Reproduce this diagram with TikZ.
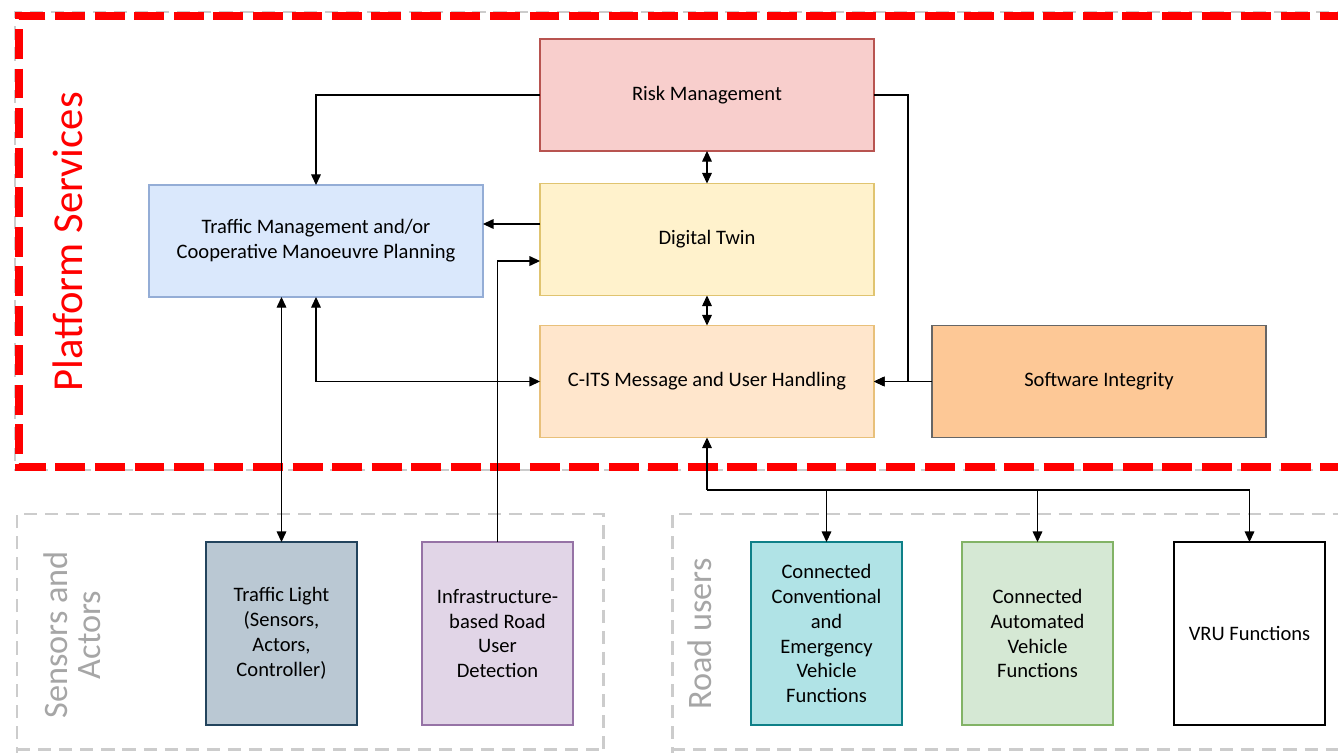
\documentclass[tikz,border=0pt]{standalone}
\usepackage{fontspec}
\setmainfont{Carlito}
\usepackage{xcolor}
\usetikzlibrary{arrows.meta}
\usetikzlibrary{calc}

\definecolor{riskfill}{HTML}{F8CECC}\definecolor{riskline}{HTML}{B85450}
\definecolor{twinfill}{HTML}{FFF2CC}\definecolor{twinline}{HTML}{E0C470}
\definecolor{citsfill}{HTML}{FFE6CC}\definecolor{citsline}{HTML}{E8C07A}
\definecolor{swfill}{HTML}{FDC896}\definecolor{swline}{HTML}{666666}
\definecolor{tmfill}{HTML}{DAE8FC}\definecolor{tmline}{HTML}{94ADD6}
\definecolor{tlfill}{HTML}{BAC8D3}\definecolor{tlline}{HTML}{23445D}
\definecolor{infill}{HTML}{E1D5E7}\definecolor{inline}{HTML}{9673A6}
\definecolor{cvfill}{HTML}{B0E3E6}\definecolor{cvline}{HTML}{0E8088}
\definecolor{avfill}{HTML}{D5E8D4}\definecolor{avline}{HTML}{82B366}
\definecolor{grouplabel}{HTML}{A6A6A6}
\definecolor{groupline}{HTML}{CCCCCC}

\tikzset{
  box/.style={draw, line width=0.9pt, inner sep=2pt, outer sep=0pt, align=center,
    font=\fontsize{11.7}{14.2}\selectfont},
  wide/.style={box, minimum width=6.68cm, minimum height=2.24cm},
  tall/.style={box, minimum width=3.02cm, minimum height=3.66cm},
  group/.style={draw=groupline, line width=1.7pt, dash pattern=on 7.5pt off 4.5pt},
  platform/.style={draw=red, line width=4pt, dash pattern=on 17pt off 5.5pt},
  link/.style={line width=0.6pt, >={Triangle[length=6pt,width=5.5pt]}},
}

\begin{document}
\begin{tikzpicture}[x=0.02cm, y=-0.02cm]
  \useasboundingbox (0,0) rectangle (1338,753);

  % groups
  \draw[group] (1350,12) -- (15,12) -- (15,470) -- (1350,470);
  \draw[platform] (1350,16) -- (19,16) -- (19,467) -- (1350,467);
  \draw[group] (17,760) -- (17,514) -- (603,514) -- (603,760);
  \draw[group] (17,749) -- (603,749);
  \draw[group] (672,760) -- (672,514) -- (1350,514);
  \draw[group] (672,749) -- (1350,749);

  \node[red, rotate=90, font=\fontsize{24.3}{28}\selectfont] (ps) at (68,242) {Platform Services};
  \node[grouplabel, rotate=90, align=center, font=\fontsize{19.5}{18.5}\selectfont] (sa) at (72,635) {Sensors and\\Actors};
  \node[grouplabel, rotate=90, font=\fontsize{19.5}{18.5}\selectfont] (ru) at (700,634) {Road users};

  % platform services
  \node[wide, fill=riskfill, draw=riskline] (risk) at (707,95) {Risk Management};
  \node[wide, fill=twinfill, draw=twinline] (twin) at (707,239.5) {Digital Twin};
  \node[wide, fill=citsfill, draw=citsline] (cits) at (707,381.5) {C-ITS Message and User Handling};
  \node[wide, fill=swfill, draw=swline] (sw) at (1099,381.5) {Software Integrity};
  \node[wide, fill=tmfill, draw=tmline] (tm) at (316,241) {Traffic Management and/or\\Cooperative Manoeuvre Planning};

  % sensors, actors and road users
  \node[tall, fill=tlfill, draw=tlline] (tl) at (281.5,633.5) {Traffic Light\\(Sensors,\\Actors,\\Controller)};
  \node[tall, fill=infill, draw=inline] (infra) at (497.5,633.5) {Infrastructure-\\based Road\\User\\Detection};
  \node[tall, fill=cvfill, draw=cvline] (conv) at (826.5,633.5) {Connected\\Conventional\\and\\Emergency\\Vehicle\\Functions};
  \node[tall, fill=avfill, draw=avline] (auto) at (1037.5,633.5) {Connected\\Automated\\Vehicle\\Functions};
  \node[tall, fill=white, draw=black] (vru) at (1249.5,633.5) {VRU Functions};

  % connectors
  \draw[link, ->] (risk.west) -| (tm.north);
  \draw[link, ->] (risk.east) -- ++(34,0) |- (cits.east);
  \draw[link, ->] (sw.west) -- (cits.east);
  \draw[link, <->] (risk) -- (twin);
  \draw[link, <->] (twin) -- (cits);
  \draw[link, ->] ([yshift=0.31cm]twin.west) -- ([yshift=0.31cm]twin.west -| tm.east);
  \draw[link, ->] (infra.north) |- ([yshift=-0.43cm]twin.west);
  \draw[link, <->] (tm.south) |- (cits.west);
  \draw[link, <->] (tm.south -| tl.north) -- (tl.north);

  \coordinate (bus) at (707,490);
  \draw[link, <-] (cits.south) -- (bus);
  \foreach \n in {conv,auto,vru}
    \draw[link, ->] (bus) -| (\n.north);
\end{tikzpicture}
\end{document}
